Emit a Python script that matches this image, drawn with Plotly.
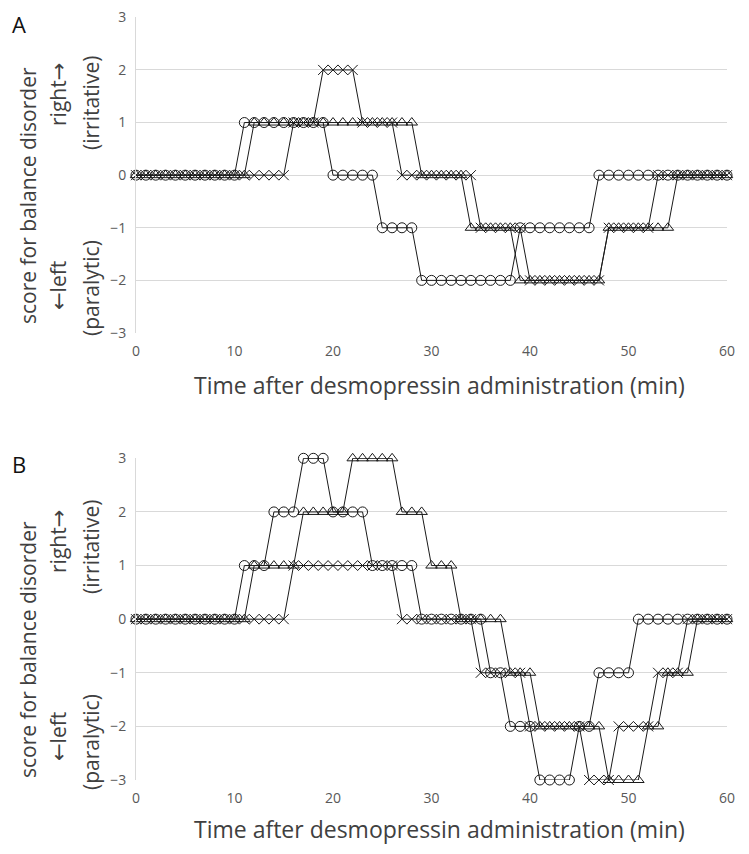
import plotly.graph_objects as go

# ---------------- data ----------------
minutes = list(range(61))
x_ticks = [0, 10, 20, 30, 40, 50, 60]
y_ticks = [-3, -2, -1, 0, 1, 2, 3]
panel_labels = ["A", "B"]
x_title = "Time after desmopressin administration (min)"

# Panel A
circle_A = [0, 0, 0, 0, 0, 0, 0, 0, 0, 0, 0,
            1, 1, 1, 1, 1, 1, 1, 1, 1,
            0, 0, 0, 0, 0,
            -1, -1, -1, -1,
            -2, -2, -2, -2, -2, -2, -2, -2, -2, -2,
            -1, -1, -1, -1, -1, -1, -1, -1,
            0, 0, 0, 0, 0, 0, 0, 0, 0, 0, 0, 0, 0, 0]
cross_A = [0, 0, 0, 0, 0, 0, 0, 0, 0, 0, 0, 0, 0, 0, 0, 0,
           1, 1, 1,
           2, 2, 2, 2,
           1, 1, 1, 1,
           0, 0, 0, 0, 0, 0, 0, 0,
           -1, -1, -1, -1, -1,
           -2, -2, -2, -2, -2, -2, -2, -2,
           -1, -1, -1, -1, -1,
           0, 0, 0, 0, 0, 0, 0, 0]
triangle_A = [0, 0, 0, 0, 0, 0, 0, 0, 0, 0, 0, 0,
              1, 1, 1, 1, 1, 1, 1, 1, 1, 1, 1, 1, 1, 1, 1, 1, 1,
              0, 0, 0, 0, 0,
              -1, -1, -1, -1, -1,
              -2, -2, -2, -2, -2, -2, -2, -2, -2,
              -1, -1, -1, -1, -1, -1, -1,
              0, 0, 0, 0, 0, 0]

# Panel B
circle_B = [0, 0, 0, 0, 0, 0, 0, 0, 0, 0, 0,
            1, 1, 1,
            2, 2, 2,
            3, 3, 3,
            2, 2, 2, 2,
            1, 1, 1, 1, 1,
            0, 0, 0, 0, 0, 0, 0,
            -1, -1,
            -2, -2, -2,
            -3, -3, -3, -3,
            -2, -2,
            -1, -1, -1, -1,
            0, 0, 0, 0, 0, 0, 0, 0, 0, 0]
cross_B = [0, 0, 0, 0, 0, 0, 0, 0, 0, 0, 0, 0, 0, 0, 0, 0,
           1, 1, 1, 1, 1, 1, 1, 1, 1, 1, 1,
           0, 0, 0, 0, 0, 0, 0, 0,
           -1, -1, -1, -1, -1,
           -2, -2, -2, -2, -2, -2,
           -3, -3, -3,
           -2, -2, -2, -2,
           -1, -1, -1,
           0, 0, 0, 0, 0]
triangle_B = [0, 0, 0, 0, 0, 0, 0, 0, 0, 0, 0, 0,
              1, 1, 1, 1, 1,
              2, 2, 2, 2, 2,
              3, 3, 3, 3, 3,
              2, 2, 2,
              1, 1, 1,
              0, 0, 0, 0, 0,
              -1, -1, -1,
              -2, -2, -2, -2, -2, -2, -2,
              -3, -3, -3, -3,
              -2, -2,
              -1, -1, -1,
              0, 0, 0, 0]

# ---------------- figure ----------------
# page body adds an 8px margin on every side; the figure is sized to fit the
# window exactly and reference pixel coordinates are shifted by 8px
W, H = 733, 838
L, R, T, B = 128, 14, 8, 66
plot_h = H - T - B          # 764
plot_w = W - L - R          # 591
BOT_PAGE = 8 + H - B        # page y of the bottom of the plotting region (780)


def py(p):  # reference pixel y -> paper y
    return (BOT_PAGE - p) / plot_h


def px(p):  # reference pixel x -> paper x
    return (p - 136) / plot_w


LINE_COLOR = "#1a1a1a"
FONT = "Open Sans"
ARROW = "<span style='font-family:DejaVu Sans'>{}</span>"

fig = go.Figure()

series = [
    (circle_A, "circle-open", "x", "y"),
    (cross_A, "x-thin-open", "x", "y"),
    (triangle_A, "triangle-up-open", "x", "y"),
    (circle_B, "circle-open", "x2", "y2"),
    (cross_B, "x-thin-open", "x2", "y2"),
    (triangle_B, "triangle-up-open", "x2", "y2"),
]
for vals, sym, xa, ya in series:
    fig.add_trace(go.Scatter(
        x=minutes, y=vals, mode="lines+markers", xaxis=xa, yaxis=ya,
        line=dict(color=LINE_COLOR, width=1),
        marker=dict(symbol=sym, size=10,
                    color=LINE_COLOR, line=dict(color=LINE_COLOR, width=1)),
        cliponaxis=False, showlegend=False, hoverinfo="skip"))

xaxis_common = dict(range=[0, 60], tickvals=x_ticks, showgrid=False, zeroline=False,
                    showline=False, ticks="", ticklabelstandoff=8, automargin=False,
                    ticklabeloverflow="allow",
                    tickfont=dict(family=FONT, size=14, color="#595959"))
# the top of the range is nudged a hair above 3 so the top grid line is drawn
yaxis_common = dict(range=[-3, 3.006], tickvals=y_ticks, showgrid=True, gridcolor="#d9d9d9",
                    gridwidth=1, zeroline=False, showline=True, linecolor="#d9d9d9",
                    linewidth=1, ticks="", ticklabelstandoff=6, automargin=False,
                    ticklabeloverflow="allow",
                    tickfont=dict(family=FONT, size=14, color="#595959"))

domA = [py(333), py(17)]
domB = [0.0, py(458)]

fig.update_layout(
    width=W, height=H,
    margin=dict(l=L, r=R, t=T, b=B, autoexpand=False),
    paper_bgcolor="white", plot_bgcolor="white",
    xaxis=dict(domain=[0, 1], anchor="y", **xaxis_common),
    yaxis=dict(domain=domA, anchor="x", **yaxis_common),
    xaxis2=dict(domain=[0, 1], anchor="y2", **xaxis_common),
    yaxis2=dict(domain=domB, anchor="x2", **yaxis_common),
)

TXT = "#404040"


def note(text, x, y, size, angle=0, color=TXT):
    return dict(text=text, x=px(x), y=py(y), xref="paper", yref="paper",
                xanchor="center", yanchor="middle", textangle=angle,
                showarrow=False, font=dict(family=FONT, size=size, color=color))


ann = []
ann.append(note(panel_labels[0], 19, 24, 22, color="#111"))
ann.append(note(panel_labels[1], 19, 464, 22, color="#111"))
for yc in (385, 829):
    ann.append(note(x_title, 440, yc, 23))
for c1, up2, lo2, up3, lo3 in ((196, 95, 286, 103, 288), (650, 542, 737, 547, 742)):
    ann.append(note("score for balance disorder", 28, c1, 21, -90))
    ann.append(note("right" + ARROW.format("→"), 58, up2, 21, -90))
    ann.append(note(ARROW.format("←") + "left", 58, lo2, 21, -90))
    ann.append(note("(irritative)", 91, up3, 21, -90))
    ann.append(note("(paralytic)", 91, lo3, 21, -90))
fig.update_layout(annotations=ann)

fig.write_html("out.html")
